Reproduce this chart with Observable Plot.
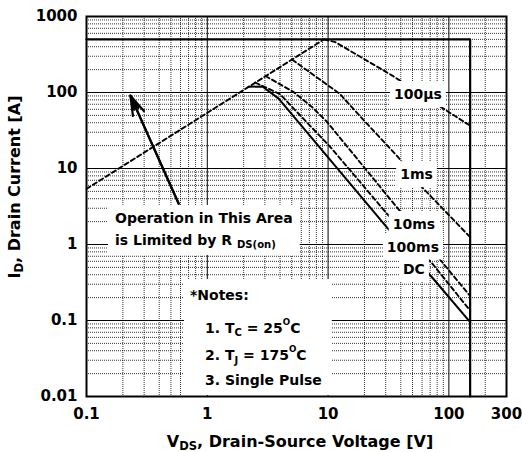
<!DOCTYPE html>
<html><head><meta charset="utf-8">
<script src="https://cdn.jsdelivr.net/npm/d3@7"></script>
<script src="https://cdn.jsdelivr.net/npm/@observablehq/plot@0.6"></script>
<style>
body{margin:0;background:#fff;}
</style></head><body><div id="chart"></div>
<script>
// ---- axis ticks / grid ----
const xTicks = [0.1, 1, 10, 100, 300];
const yTicks = [0.01, 0.1, 1, 10, 100, 1000];
const xMajor = [1, 10, 100];
const yMajor = [0.1, 1, 10, 100];
const xMinor = [0.2,0.3,0.4,0.5,0.6,0.7,0.8,0.9, 2,3,4,5,6,7,8,9, 20,30,40,50,60,70,80,90, 200];
const yMinor = [0.02,0.03,0.04,0.05,0.06,0.07,0.08,0.09, 0.2,0.3,0.4,0.5,0.6,0.7,0.8,0.9,
                2,3,4,5,6,7,8,9, 20,30,40,50,60,70,80,90, 200,300,400,500,600,700,800,900];

// ---- limits ----
const limitV = [0.1, 150, 150];
const limitI = [500, 500, 0.01];

// ---- curves (V, A) ----
const rdsV   = [0.1, 9.26];
const rdsI   = [5.4, 500];
const us100V = [9.26, 11.5, 34, 82, 142, 150];
const us100I = [500, 459, 167, 67.5, 38.7, 36.5];
const ms1V   = [5.05, 12.5, 19.8, 38, 58, 150];
const ms1I   = [270, 96, 42.9, 14.1, 6, 1.25];
const ms10V  = [3.03, 5.2, 7.4, 9.8, 37, 150];
const ms10I  = [165, 101, 64, 41, 3.1, 0.21];
const ms100V = [2.5, 4, 10.5, 31, 73, 150];
const ms100I = [135, 95, 19, 2.5, 0.56, 0.135];
const dcV    = [2.2, 2.86, 3.9, 30.8, 72.8, 150];
const dcI    = [119, 120, 83, 1.67, 0.368, 0.095];

// ---- annotations ----
const curveLabels = ["100\u00b5s", "1ms", "10ms", "100ms", "DC"];
const curveLabelV = [56, 54.5, 51.9, 50.9, 51.9];
const curveLabelI = [94, 8.3, 1.83, 0.927, 0.476];
const arrowTail = [0.58, 3.44];
const arrowHead = [0.231, 91];
const opV = 0.174, opI = [2.2, 1.13];
const notesV = [0.726, 0.966, 0.966, 0.966];
const notesI = [0.213, 0.0785, 0.0346, 0.01626];

const tbl = (V, I) => V.map((v, k) => ({v, i: I[k]}));
const dash = {x: "v", y: "i", stroke: "black", strokeWidth: 1.9, strokeDasharray: "4.5,3"};
const font = {fontSize: 15, fontWeight: "bold", fontFamily: "DejaVu Sans, sans-serif", fill: "black"};

const chart = Plot.plot({
  width: 522, height: 452,
  marginLeft: 86, marginRight: 16, marginTop: 16, marginBottom: 56,
  style: {fontFamily: "DejaVu Sans, sans-serif", fontSize: "15px", fontWeight: "bold", background: "white", color: "black", overflow: "visible"},
  x: {type: "log", domain: [0.1, 300], axis: null},
  y: {type: "log", domain: [0.01, 1000], axis: null},
  marks: [
    Plot.ruleX(xMinor, {stroke: "black", strokeWidth: 0.8, strokeDasharray: "1,1"}),
    Plot.ruleY(yMinor, {stroke: "black", strokeWidth: 0.8, strokeDasharray: "1,1"}),
    Plot.ruleX(xMajor, {stroke: "black", strokeWidth: 1}),
    Plot.ruleY(yMajor, {stroke: "black", strokeWidth: 1}),
    Plot.line(tbl(limitV, limitI), {x: "v", y: "i", stroke: "black", strokeWidth: 2.2}),
    Plot.line(tbl(rdsV, rdsI), dash),
    Plot.line(tbl(us100V, us100I), dash),
    Plot.line(tbl(ms1V, ms1I), dash),
    Plot.line(tbl(ms10V, ms10I), dash),
    Plot.line(tbl(ms100V, ms100I), dash),
    Plot.line(tbl(dcV, dcI), {x: "v", y: "i", stroke: "black", strokeWidth: 2}),
    Plot.arrow([0], {x1: () => arrowTail[0], y1: () => arrowTail[1], x2: () => arrowHead[0], y2: () => arrowHead[1],
      stroke: "black", strokeWidth: 2.2, headLength: 14, headAngle: 34}),
    Plot.arrow([0], {x1: () => arrowTail[0], y1: () => arrowTail[1], x2: () => arrowHead[0], y2: () => arrowHead[1],
      stroke: "black", strokeWidth: 2.2, headLength: 10, headAngle: 18}),
    Plot.frame({stroke: "black", strokeWidth: 2}),
    Plot.text(xTicks, {x: d => d, frameAnchor: "bottom", lineAnchor: "top", dy: 12, text: d => String(d), ...font}),
    Plot.text(yTicks, {y: d => d, frameAnchor: "left", textAnchor: "end", dx: -9, text: d => String(d), ...font})
  ]
});
document.getElementById("chart").append(chart);

// ---- rich text annotations ----
const svg = d3.select(chart);
const sx = chart.scale("x"), sy = chart.scale("y");
const X = v => sx.apply(v), Y = i => sy.apply(i);
const ann = svg.append("g").attr("font-family", "DejaVu Sans, sans-serif").attr("font-weight", "bold").attr("fill", "black");

function rich(g, x, y, parts, size, anchor, rotate) {
  const t = g.append("text").attr("x", x).attr("y", y).attr("font-size", size)
    .attr("text-anchor", anchor || "start").attr("dominant-baseline", "central");
  if (rotate) t.attr("transform", `rotate(${rotate},${x},${y})`);
  let shift = 0;
  for (const [s, kind] of parts) {
    const sp = t.append("tspan").text(s);
    let target = 0, fs = size;
    if (kind === "sub") { target = size * 0.32; fs = size * 0.72; }
    if (kind === "sup") { target = -size * 0.45; fs = size * 0.62; }
    sp.attr("font-size", fs).attr("dy", target - shift);
    shift = target;
  }
  return t;
}
function boxed(build, padX, padY, extra) {
  const g = ann.append("g");
  build(g);
  const b = g.node().getBBox();
  let x0 = b.x - padX, y0 = b.y - padY, x1 = b.x + b.width + padX, y1 = b.y + b.height + padY;
  if (extra) [x0, y0, x1, y1] = extra(x0, y0, x1, y1);
  g.insert("rect", ":first-child").attr("x", x0).attr("y", y0).attr("width", x1 - x0).attr("height", y1 - y0).attr("fill", "white");
}

// curve labels
curveLabels.forEach((s, k) => {
  boxed(g => rich(g, X(curveLabelV[k]), Y(curveLabelI[k]), [[s, "n"]], 14, "middle"), 4, 5);
});
// operation area
boxed(g => {
  rich(g, X(opV), Y(opI[0]), [["Operation in This Area", "n"]], 14, "start");
  rich(g, X(opV), Y(opI[1]), [["is Limited by R ", "n"], ["DS(on)", "sub"]], 14, "start");
}, 7, 5);
// notes
boxed(g => {
  rich(g, X(notesV[0]), Y(notesI[0]), [["*Notes:", "n"]], 14, "start");
  rich(g, X(notesV[1]), Y(notesI[1]), [["1. T", "n"], ["C", "sub"], [" = 25", "n"], ["O", "sup"], ["C", "n"]], 14, "start");
  rich(g, X(notesV[2]), Y(notesI[2]), [["2. T", "n"], ["J", "sub"], [" = 175", "n"], ["O", "sup"], ["C", "n"]], 14, "start");
  rich(g, X(notesV[3]), Y(notesI[3]), [["3. Single Pulse", "n"]], 14, "start");
}, 6, 8, (x0, y0, x1, y1) => [x0, y0, x1 + 4, Y(0.01) - 1]);

// axis titles
rich(ann, 300, 441, [["V", "n"], ["DS", "sub"], [", Drain-Source Voltage [V]", "n"]], 16, "middle");
rich(ann, 14, 187, [["I", "n"], ["D", "sub"], [", Drain Current [A]", "n"]], 16, "middle", -90);
</script></body></html>
